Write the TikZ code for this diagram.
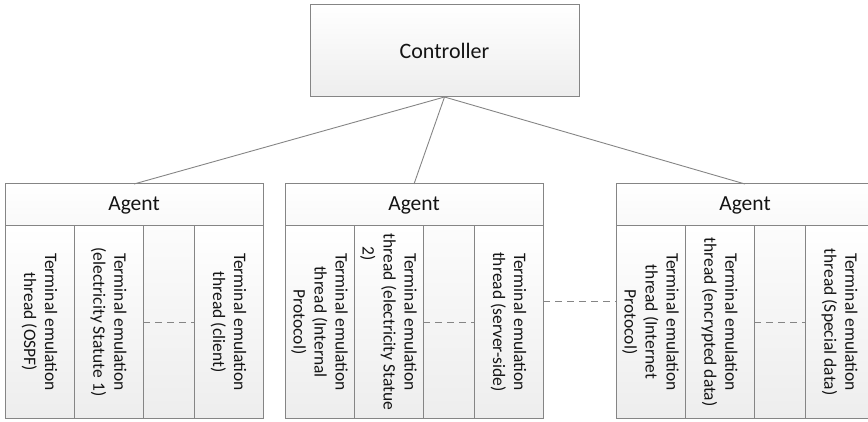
\documentclass[tikz,border=0pt]{standalone}
\usepackage{fontspec}
\setmainfont{Carlito}
\definecolor{edge}{HTML}{858585}
\definecolor{ink}{HTML}{141414}
\tikzset{
  box/.style={draw=edge, line width=1pt, top color=white, bottom color=gray!14,
    inner sep=0pt, outer sep=0pt, anchor=north west},
  ctrlbox/.style={box, minimum width=269pt, minimum height=92pt,
    text=ink, font=\fontsize{22}{26}\selectfont},
  agentbox/.style={box, minimum width=258pt, minimum height=234pt},
  headbox/.style={box, bottom color=gray!5, minimum width=258pt, minimum height=42pt,
    text=ink, font=\fontsize{21.5}{25}\selectfont},
  threadbox/.style={box, minimum width=69pt, minimum height=192pt},
  threadtext/.style={rotate=-90, align=center, inner sep=0pt, text=ink,
    font=\fontsize{17.5}{21}\selectfont},
  link/.style={draw=edge, line width=0.9pt},
  gap/.style={link, dash pattern=on 7pt off 5pt}
}
\begin{document}
\begin{tikzpicture}[x=1pt,y=-1pt]
  \useasboundingbox (0,0) rectangle (868,422);
  \node[ctrlbox] (ctrl) at (310,5) {Controller};
  % agents with their three threads
  \foreach \a/\x in {1/5,2/285,3/616} {
    \node[agentbox] (agent\a) at (\x,184) {};
    \node[headbox] (head\a) at (\x,184) {Agent};
    \node[threadbox] (t\a1) at (\x,226) {};
    \node[threadbox] (t\a2) at ([xshift=69pt]t\a1.north west) {};
    \node[threadbox] (t\a3) at ([xshift=189pt]t\a1.north west) {};
    \draw[gap] (t\a2.east) -- (t\a3.west);
    \draw[link] (ctrl.south) -- (head\a.north);
  }
  \draw[gap] ([yshift=21pt]t23.east) -- ([yshift=21pt]t31.west);
  % thread labels
  \node[threadtext] (l11) at (t11.center) {Terminal emulation\\thread (OSPF)};
  \node[threadtext] (l12) at (t12.center) {Terminal emulation\\(electricity Statute 1)};
  \node[threadtext] (l13) at (t13.center) {Terminal emulation\\thread (client)};
  \node[threadtext] (l21) at (t21.center) {Terminal emulation\\thread (Internal\\Protocol)};
  \node[threadtext] (l22) at (t22.center) {Terminal emulation\\thread (electricity Statue\\\makebox[150pt][l]{2)}};
  \node[threadtext] (l23) at (t23.center) {Terminal emulation\\thread (server-side)};
  \node[threadtext] (l31) at (t31.center) {Terminal emulation\\thread (Internet\\Protocol)};
  \node[threadtext] (l32) at (t32.center) {Terminal emulation\\thread (encrypted data)};
  \node[threadtext] (l33) at (t33.center) {Terminal emulation\\thread (Special data)};
\end{tikzpicture}
\end{document}
